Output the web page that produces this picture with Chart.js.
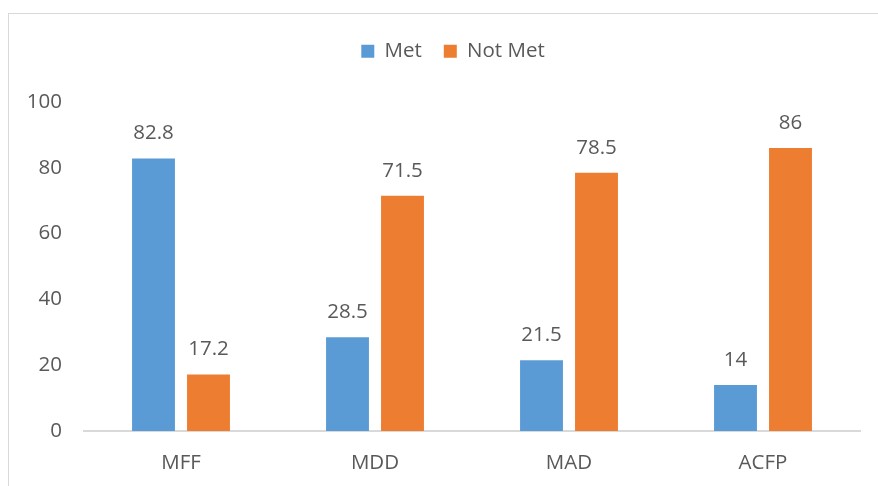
<!DOCTYPE html>
<html>
<head>
<meta charset="utf-8">
<script src="https://cdn.jsdelivr.net/npm/chart.js@4.4.1/dist/chart.umd.min.js"></script>
<style>
  html, body { margin: 0; padding: 0; background: #fff; overflow: hidden; }
  #frame {
    position: absolute; left: 8px; top: 13px; width: 900px; height: 500px;
    border: 1px solid #d9d9d9; box-sizing: border-box;
  }
  #chart { position: absolute; left: 0; top: 0; }
</style>
</head>
<body>
<div id="frame"></div>
<canvas id="chart" width="878" height="486"></canvas>
<script>
const categories = ['MFF', 'MDD', 'MAD', 'ACFP'];
const metValues = [82.8, 28.5, 21.5, 14];
const notMetValues = [17.2, 71.5, 78.5, 86];
const yTicks = [0, 20, 40, 60, 80, 100];

const textColor = '#595959';
const fontFamily = "'Open Sans', 'Noto Sans', sans-serif";
const fontSize = 20.5;

// draws the value above each bar
const valueLabels = {
    id: 'valueLabels',
    afterDatasetsDraw(chart) {
        const ctx = chart.ctx;
        ctx.save();
        ctx.fillStyle = textColor;
        ctx.font = fontSize + 'px ' + fontFamily;
        ctx.textAlign = 'center';
        ctx.textBaseline = 'middle';
        chart.data.datasets.forEach((ds, i) => {
            chart.getDatasetMeta(i).data.forEach((bar, j) => {
                ctx.fillText(String(ds.data[j]), bar.x, bar.y - 25);
            });
        });
        ctx.restore();
    }
};

// legend block: fixed height, nudged right a little
let legendShifted = false;
const legendTweak = {
    id: 'legendTweak',
    beforeInit(chart) {
        const origFit = chart.legend.fit;
        chart.legend.fit = function () {
            origFit.bind(chart.legend)();
            this.height = 83;
        };
    },
    beforeDraw(chart) {
        if (legendShifted) return;
        legendShifted = true;
        chart.legend.left += 12;
        chart.legend.right += 12;
        chart.legend.adjustHitBoxes();
    }
};

const ctx = document.getElementById('chart').getContext('2d');
const chart = new Chart(ctx, {
    type: 'bar',
    data: {
        labels: categories,
        datasets: [
            { label: 'Met', data: metValues, backgroundColor: '#5B9BD5' },
            { label: 'Not Met', data: notMetValues, backgroundColor: '#ED7D31' }
        ]
    },
    options: {
        responsive: false,
        animation: false,
        devicePixelRatio: 1,
        categoryPercentage: 0.567,
        barPercentage: 0.78,
        layout: { padding: { left: 22, right: 18, top: 19, bottom: 0 } },
        plugins: {
            tooltip: { enabled: false },
            legend: {
                position: 'top',
                labels: {
                    color: textColor,
                    font: { size: fontSize, family: fontFamily },
                    boxWidth: 13,
                    boxHeight: 13,
                    padding: 22
                }
            }
        },
        scales: {
            x: {
                grid: { display: false },
                border: { display: true, color: '#d9d9d9', width: 2 },
                ticks: { color: textColor, font: { size: fontSize, family: fontFamily }, padding: 12 },
                afterFit(scale) { scale.height = 55; }
            },
            y: {
                min: 0,
                max: 100,
                afterBuildTicks(axis) {
                    axis.ticks = yTicks.map(v => ({ value: v }));
                },
                grid: { display: false },
                border: { display: false },
                ticks: { color: textColor, font: { size: fontSize, family: fontFamily }, padding: 14 },
                afterFit(scale) { scale.width = 62; }
            }
        }
    },
    plugins: [valueLabels, legendTweak]
});
</script>
</body>
</html>
